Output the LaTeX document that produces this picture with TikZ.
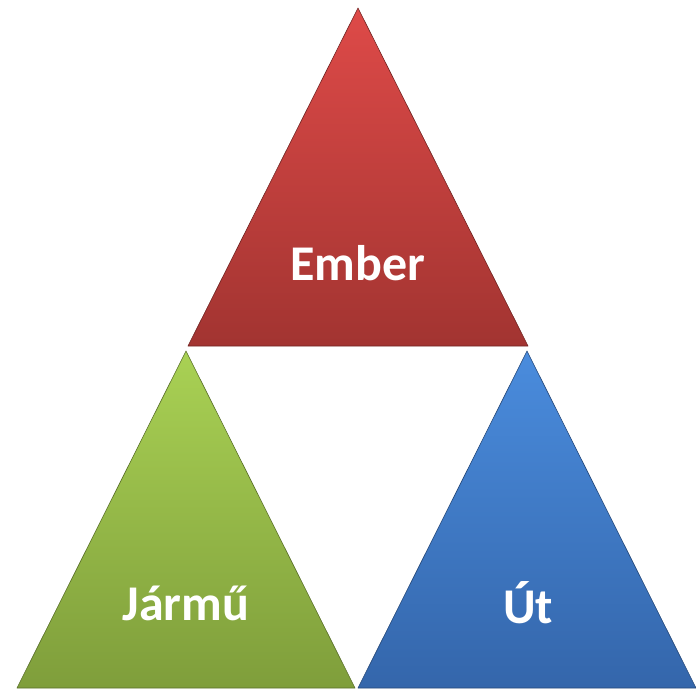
\documentclass[tikz,border=0pt]{standalone}
\usepackage{fontspec}
\setmainfont{Carlito}
\definecolor{rtop}{HTML}{DE4A48}
\definecolor{rbot}{HTML}{A23431}
\definecolor{gtop}{HTML}{A9D154}
\definecolor{gbot}{HTML}{7F9E3B}
\definecolor{btop}{HTML}{4A8CDD}
\definecolor{bbot}{HTML}{3466AB}
\tikzset{
  tri/.style={draw=#1!70!black, line width=0.6pt, line join=round},
  lbl/.style={text=white, font=\fontsize{50}{56}\selectfont\bfseries, inner sep=0pt}
}
\begin{document}
\begin{tikzpicture}[x=1pt,y=-1pt]
\useasboundingbox (0,0) rectangle (696,689);
\coordinate (ra) at (358,8);
\coordinate (rl) at (188,346);
\coordinate (rr) at (528,346);
\coordinate (ga) at (186,351);
\coordinate (gl) at (17,688);
\coordinate (gr) at (355,688);
\coordinate (ba) at (527,351);
\coordinate (bl) at (358,688);
\coordinate (br) at (696,688);
\shade[top color=rtop, bottom color=rbot] (ra) -- (rr) -- (rl) -- cycle;
\draw[tri=rbot] (ra) -- (rr) -- (rl) -- cycle;
\shade[top color=gtop, bottom color=gbot] (ga) -- (gr) -- (gl) -- cycle;
\draw[tri=gbot] (ga) -- (gr) -- (gl) -- cycle;
\shade[top color=btop, bottom color=bbot] (ba) -- (br) -- (bl) -- cycle;
\draw[tri=bbot] (ba) -- (br) -- (bl) -- cycle;
\node[lbl] (ember) at (358,263) {Ember};
\node[lbl] (jarmu) at (186,603) {Jármű};
\node[lbl] (ut) at (528,603) {Út};
\end{tikzpicture}
\end{document}
